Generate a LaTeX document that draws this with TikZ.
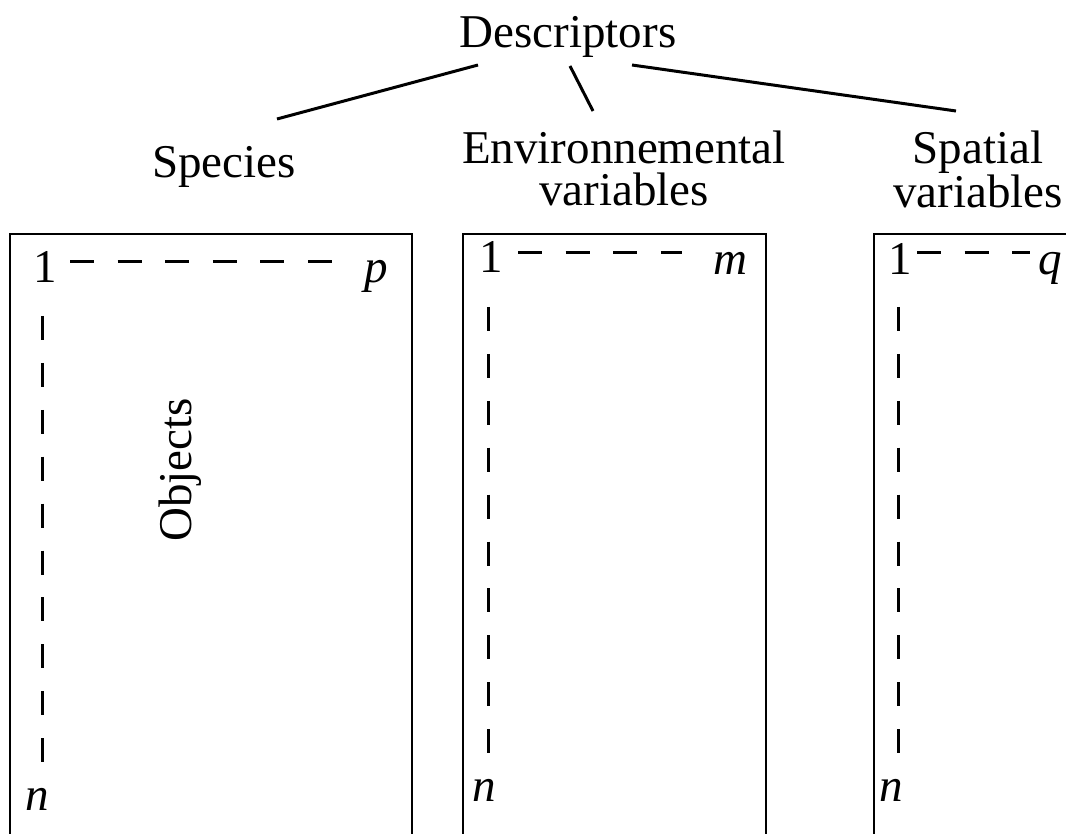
\documentclass[tikz,border=0pt]{standalone}
\usepackage{fontspec}
\setmainfont{Liberation Serif}
\begin{document}
\begin{tikzpicture}[x=1pt,y=-1pt,
  lbl/.style={inner sep=0pt,outer sep=0pt,anchor=base,font=\fontsize{47}{42}\selectfont},
  ilbl/.style={lbl,font=\fontsize{47}{42}\selectfont\itshape},
  twoline/.style={lbl,align=center,anchor=north},
  boxline/.style={line width=2.6pt},
  conn/.style={line width=3pt},
  hdash/.style={line width=3pt,dash pattern=on 24pt off 23.6pt},
  vdash/.style={line width=3pt,dash pattern=on 24pt off 22.9pt}]
\useasboundingbox (0,0) rectangle (1066,834);
% headings
\node[lbl] (desc) at (568,48) {Descriptors};
\node[lbl] (spec) at (224,178) {Species};
\node[twoline] (env) at (624,131) {Environnemental\\variables};
\node[twoline] (spat) at (978,131) {Spatial\\variables};
% connectors
\coordinate (d1) at (478,65);
\coordinate (d2) at (570,66);
\coordinate (d3) at (632,65);
\coordinate (s1) at (277,119);
\coordinate (e1) at (593,111);
\coordinate (p1) at (956,111);
\draw[conn] (d1) -- (s1);
\draw[conn] (d2) -- (e1);
\draw[conn] (d3) -- (p1);
% boxes
\draw[boxline] (10,860) -- (10,234) -- (412,234) -- (412,860);
\draw[boxline] (463,860) -- (463,234) -- (766,234) -- (766,860);
\draw[boxline] (874,860) -- (874,234) -- (1090,234);
% box 1
\node[lbl] (one1) at (45,283) {1};
\node[ilbl] (p) at (376,283) {p};
\node[ilbl] (n1) at (37,810) {n};
\coordinate (h1a) at (70,262);
\coordinate (h1b) at (333,262);
\coordinate (v1a) at (42,316);
\coordinate (v1b) at (42,762);
\draw[hdash] (h1a) -- (h1b);
\draw[vdash] (v1a) -- (v1b);
\node[lbl,rotate=90,anchor=center] (obj) at (180,470) {Objects};
% box 2
\node[lbl] (one2) at (491,273) {1};
\node[ilbl] (m) at (730,275) {m};
\node[ilbl] (n2) at (484,801) {n};
\coordinate (h2a) at (518,253);
\coordinate (h2b) at (682,253);
\coordinate (v2a) at (488,307);
\coordinate (v2b) at (488,753);
\draw[hdash] (h2a) -- (h2b);
\draw[vdash] (v2a) -- (v2b);
% box 3
\node[lbl] (one3) at (900,275) {1};
\node[ilbl] (q) at (1050,275) {q};
\node[ilbl] (n3) at (891,801) {n};
\coordinate (h3a) at (917,253);
\coordinate (h3b) at (1030,253);
\coordinate (v3a) at (898,307);
\coordinate (v3b) at (898,753);
\draw[hdash] (h3a) -- (h3b);
\draw[vdash] (v3a) -- (v3b);
\end{tikzpicture}
\end{document}
